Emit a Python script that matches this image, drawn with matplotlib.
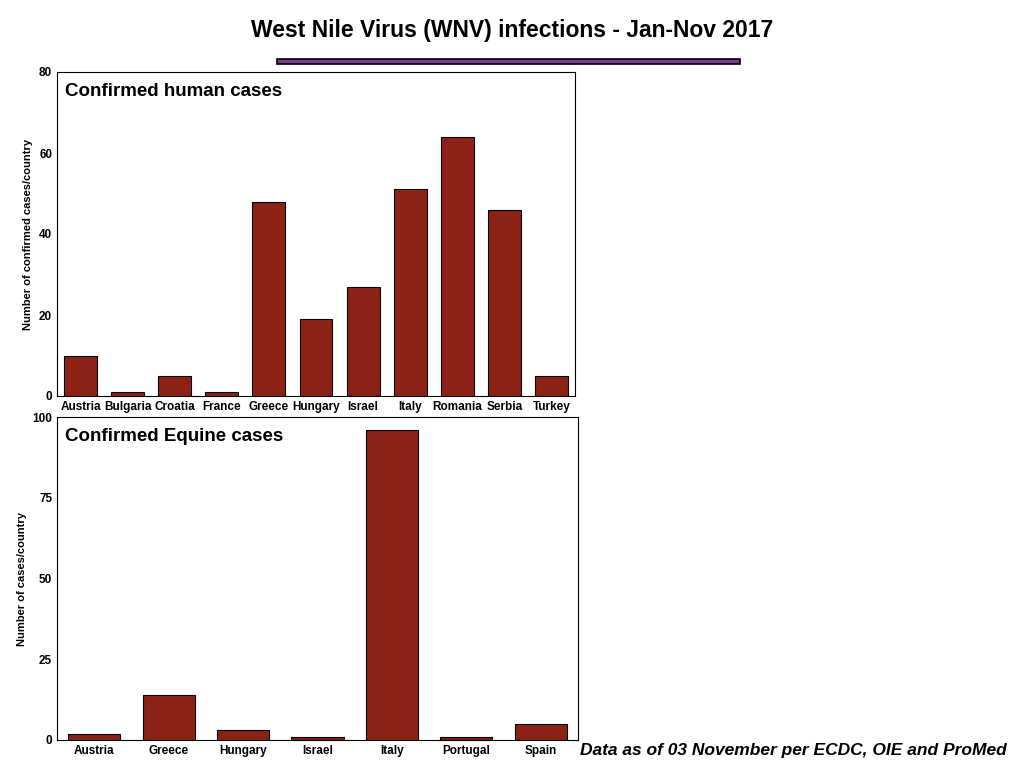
import matplotlib.pyplot as plt
from matplotlib.patches import Rectangle

plt.rcParams['font.family'] = ['Liberation Sans', 'DejaVu Sans']

human_countries = ['Austria', 'Bulgaria', 'Croatia', 'France', 'Greece', 'Hungary',
                   'Israel', 'Italy', 'Romania', 'Serbia', 'Turkey']
human_cases = [10, 1, 5, 1, 48, 19, 27, 51, 64, 46, 5]
equine_countries = ['Austria', 'Greece', 'Hungary', 'Israel', 'Italy', 'Portugal', 'Spain']
equine_cases = [2, 14, 3, 1, 96, 1, 5]

bar_color = '#8b2215'

fig = plt.figure(figsize=(10.24, 7.68), dpi=100)
fig.text(0.5, 0.96, 'West Nile Virus (WNV) infections - Jan-Nov 2017',
         ha='center', va='center', fontsize=16.5, fontweight='bold')
fig.patches.append(Rectangle((277/1024, 1-64/768), 463/1024, 5/768,
                             transform=fig.transFigure, facecolor='#7b3a8c',
                             edgecolor='black', linewidth=1.2))

def draw(ax, cats, vals, ymax, yticks, ylabel, title):
    ax.bar(range(len(cats)), vals, width=0.7, color=bar_color, edgecolor='black', linewidth=0.8)
    ax.set_xlim(-0.5, len(cats) - 0.5)
    ax.set_ylim(0, ymax)
    ax.set_yticks(yticks)
    ax.set_xticks(range(len(cats)))
    ax.set_xticklabels(cats, fontsize=8.5, fontweight='bold')
    ax.tick_params(length=0, labelsize=8.5)
    for lab in ax.get_yticklabels():
        lab.set_fontweight('bold')
    ax.set_ylabel(ylabel, fontsize=8, fontweight='bold')
    ax.text(0.015, 0.965, title, transform=ax.transAxes, ha='left', va='top',
            fontsize=13.5, fontweight='bold')

ax1 = fig.add_axes([57/1024, 1-396/768, 518/1024, 324/768])
draw(ax1, human_countries, human_cases, 80, [0, 20, 40, 60, 80],
     'Number of confirmed cases/country', 'Confirmed human cases')

ax2 = fig.add_axes([57/1024, 1-740/768, 521/1024, 323/768])
draw(ax2, equine_countries, equine_cases, 100, [0, 25, 50, 75, 100],
     'Number of cases/country', 'Confirmed Equine cases')

fig.text(580/1024, 1-750/768, 'Data as of 03 November per ECDC, OIE and ProMed',
         ha='left', va='center', fontsize=12.5, fontweight='bold', style='italic')

fig.savefig('out.png', dpi=100)
